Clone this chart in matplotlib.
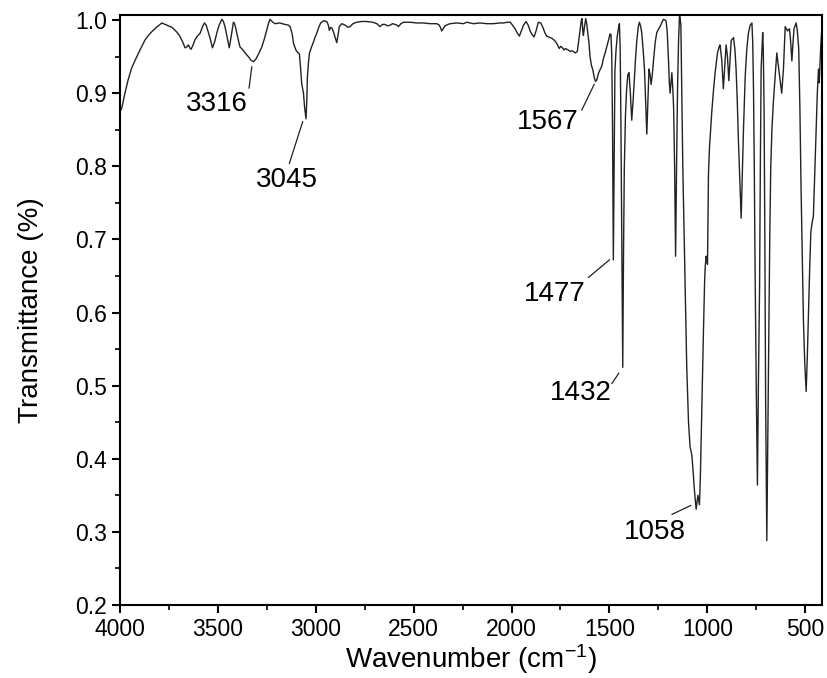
import matplotlib
matplotlib.use("Agg")
import matplotlib.pyplot as plt
from matplotlib.ticker import MultipleLocator

plt.rcParams['font.family'] = ['Liberation Sans', 'DejaVu Sans']
plt.rcParams['mathtext.fontset'] = 'custom'
plt.rcParams['mathtext.rm'] = 'Liberation Sans'
plt.rcParams['mathtext.default'] = 'regular'

# FTIR spectrum (wavenumber in cm-1, transmittance)
wavenumber = [
    4000, 3991, 3975, 3959, 3940, 3923, 3900, 3872, 3855, 3838, 3815, 3800,
    3787, 3770, 3753, 3735, 3719, 3705, 3693, 3680, 3668, 3660, 3651, 3644,
    3637, 3627, 3617, 3605, 3591, 3580, 3569, 3560, 3552, 3540, 3528, 3517,
    3506, 3494, 3480, 3472, 3464, 3452, 3442, 3432, 3421, 3415, 3409, 3398,
    3387, 3375, 3361, 3345, 3331, 3318, 3305, 3290, 3276, 3262, 3251, 3240,
    3234, 3220, 3208, 3185, 3157, 3140, 3131, 3120, 3114, 3100, 3090, 3084,
    3078, 3072, 3063, 3057, 3050, 3046, 3043, 3038, 3033, 3022, 3012, 3003,
    2995, 2985, 2975, 2961, 2944, 2936, 2931, 2924, 2918, 2910, 2900, 2893,
    2886, 2880, 2867, 2850, 2835, 2825, 2810, 2791, 2765, 2740, 2710, 2688,
    2680, 2672, 2660, 2646, 2633, 2620, 2608, 2595, 2585, 2578, 2565, 2553,
    2520, 2484, 2450, 2416, 2382, 2369, 2362, 2357, 2350, 2340, 2325, 2314,
    2280, 2246, 2229, 2195, 2161, 2127, 2093, 2060, 2042, 2020, 2007, 1995,
    1982, 1970, 1960, 1950, 1939, 1926, 1915, 1905, 1895, 1885, 1875, 1863,
    1851, 1840, 1829, 1820, 1812, 1803, 1794, 1780, 1769, 1760, 1756, 1749,
    1743, 1737, 1732, 1725, 1718, 1710, 1701, 1690, 1675, 1664, 1655, 1650,
    1644, 1640, 1636, 1633, 1628, 1621, 1616, 1610, 1605, 1599, 1592, 1585,
    1578, 1571, 1565, 1556, 1548, 1539, 1531, 1522, 1514, 1505, 1497, 1492,
    1488, 1484, 1480, 1476, 1472, 1466, 1460, 1453, 1449, 1445, 1441, 1437,
    1432, 1428, 1424, 1418, 1412, 1406, 1400, 1393, 1386, 1379, 1372, 1366,
    1360, 1353, 1347, 1341, 1335, 1328, 1321, 1315, 1309, 1303, 1298, 1292,
    1287, 1281, 1275, 1266, 1258, 1248, 1238, 1230, 1224, 1216, 1211, 1205,
    1199, 1194, 1190, 1185, 1181, 1176, 1172, 1167, 1162, 1157, 1152, 1147,
    1142, 1139, 1135, 1130, 1125, 1115, 1105, 1096, 1088, 1079, 1073, 1067,
    1062, 1057, 1053, 1048, 1044, 1040, 1035, 1028, 1020, 1014, 1011, 1006,
    1002, 999, 994, 989, 977, 968, 960, 948, 940, 935, 926, 918,
    911, 904, 897, 890, 884, 878, 866, 859, 853, 847, 841, 834,
    827, 821, 815, 806, 798, 790, 781, 772, 768, 764, 760, 756,
    750, 744, 739, 733, 729, 725, 717, 714, 710, 706, 702, 696,
    691, 686, 681, 676, 670, 662, 653, 645, 636, 628, 620, 611,
    602, 596, 590, 585, 580, 574, 568, 562, 557, 546, 540, 533,
    527, 521, 515, 509, 502, 495, 489, 484, 477, 471, 465, 458,
    451, 444, 438, 432, 428, 424, 421, 417, 414, 410,
]
transmittance = [
    0.875, 0.880, 0.900, 0.918, 0.935, 0.945, 0.958, 0.973, 0.979, 0.984, 0.990, 0.993,
    0.996, 0.994, 0.992, 0.990, 0.986, 0.982, 0.977, 0.970, 0.962, 0.963, 0.966, 0.962,
    0.960, 0.966, 0.973, 0.978, 0.982, 0.990, 0.996, 0.993, 0.986, 0.975, 0.962, 0.970,
    0.982, 0.993, 1.001, 0.998, 0.991, 0.975, 0.962, 0.978, 0.997, 0.995, 0.989, 0.975,
    0.963, 0.960, 0.955, 0.950, 0.945, 0.943, 0.947, 0.955, 0.963, 0.975, 0.986, 0.997,
    1.001, 0.997, 0.995, 0.996, 0.994, 0.993, 0.991, 0.980, 0.968, 0.958, 0.955, 0.954,
    0.935, 0.913, 0.900, 0.880, 0.865, 0.890, 0.922, 0.940, 0.954, 0.963, 0.970, 0.977,
    0.982, 0.990, 0.996, 0.999, 0.998, 0.993, 0.986, 0.990, 0.989, 0.984, 0.975, 0.969,
    0.980, 0.991, 0.995, 0.993, 0.990, 0.991, 0.995, 0.997, 0.998, 0.998, 0.997, 0.995,
    0.993, 0.991, 0.994, 0.994, 0.992, 0.993, 0.995, 0.994, 0.993, 0.991, 0.995, 0.997,
    0.997, 0.996, 0.996, 0.995, 0.995, 0.993, 0.989, 0.985, 0.988, 0.992, 0.994, 0.995,
    0.996, 0.995, 0.997, 0.995, 0.996, 0.995, 0.995, 0.996, 0.996, 0.997, 0.997, 0.993,
    0.988, 0.982, 0.978, 0.985, 0.993, 0.998, 0.993, 0.985, 0.980, 0.977, 0.985, 0.997,
    0.996, 0.990, 0.982, 0.978, 0.977, 0.976, 0.975, 0.972, 0.968, 0.963, 0.961, 0.964,
    0.963, 0.961, 0.959, 0.961, 0.960, 0.959, 0.957, 0.958, 0.955, 0.957, 0.975, 0.986,
    0.999, 1.002, 0.985, 0.979, 0.990, 1.002, 0.995, 0.982, 0.970, 0.950, 0.938, 0.932,
    0.922, 0.916, 0.918, 0.927, 0.932, 0.937, 0.947, 0.955, 0.963, 0.972, 0.981, 0.980,
    0.950, 0.850, 0.672, 0.800, 0.930, 0.960, 0.978, 0.990, 0.995, 0.960, 0.850, 0.700,
    0.525, 0.680, 0.797, 0.870, 0.906, 0.925, 0.928, 0.900, 0.863, 0.890, 0.922, 0.950,
    0.972, 0.990, 0.997, 0.992, 0.983, 0.960, 0.933, 0.890, 0.844, 0.895, 0.933, 0.925,
    0.912, 0.925, 0.944, 0.970, 0.983, 0.988, 0.993, 0.998, 1.001, 1.000, 0.999, 0.985,
    0.950, 0.915, 0.900, 0.915, 0.928, 0.905, 0.879, 0.800, 0.677, 0.800, 0.906, 0.970,
    1.007, 1.003, 0.993, 0.900, 0.797, 0.660, 0.525, 0.450, 0.416, 0.405, 0.385, 0.361,
    0.345, 0.331, 0.340, 0.350, 0.343, 0.337, 0.380, 0.470, 0.570, 0.640, 0.661, 0.677,
    0.672, 0.666, 0.790, 0.825, 0.875, 0.905, 0.928, 0.955, 0.963, 0.966, 0.945, 0.906,
    0.935, 0.966, 0.950, 0.917, 0.945, 0.972, 0.976, 0.960, 0.933, 0.890, 0.835, 0.780,
    0.729, 0.790, 0.852, 0.925, 0.961, 0.982, 0.993, 0.996, 0.970, 0.906, 0.800, 0.661,
    0.500, 0.364, 0.500, 0.634, 0.800, 0.933, 0.983, 0.960, 0.879, 0.700, 0.480, 0.288,
    0.430, 0.579, 0.700, 0.797, 0.850, 0.890, 0.925, 0.955, 0.935, 0.917, 0.900, 0.933,
    0.991, 0.988, 0.985, 0.987, 0.988, 0.970, 0.944, 0.970, 0.988, 0.996, 0.985, 0.961,
    0.880, 0.770, 0.680, 0.590, 0.530, 0.492, 0.540, 0.590, 0.660, 0.710, 0.722, 0.732,
    0.790, 0.852, 0.900, 0.933, 0.914, 0.940, 0.961, 0.980, 0.993, 1.000,
]

peak_labels = ['3316', '3045', '1567', '1477', '1432', '1058']

# label placement: text centre, then leader line start/end (data coords)
label_spots = [
    ((3506, 0.885), (3327, 0.936), (3341, 0.907)),
    ((3149, 0.781), (3067, 0.861), (3135, 0.804)),
    ((1813, 0.860), (1578, 0.912), (1641, 0.877)),
    ((1777, 0.625), (1500, 0.672), (1607, 0.648)),
    ((1646, 0.490), (1452, 0.517), (1487, 0.503)),
    ((1267, 0.300), (1085, 0.336), (1180, 0.324)),
]

fig = plt.figure(figsize=(8.28, 6.78), dpi=100)
ax = fig.add_axes([0.145, 0.1077, 0.848, 0.8703])

ax.plot(wavenumber, transmittance, color='#222222', linewidth=1.0)

for lab, (txt, p1, p2) in zip(peak_labels, label_spots):
    ax.plot([p1[0], p2[0]], [p1[1], p2[1]], color='#222222', linewidth=0.9)
    ax.text(txt[0], txt[1], lab, fontsize=20, ha='center', va='center')

ax.set_xlim(4000, 413)
ax.set_ylim(0.2, 1.007)
ax.xaxis.set_major_locator(MultipleLocator(500))
ax.xaxis.set_minor_locator(MultipleLocator(250))
ax.yaxis.set_major_locator(MultipleLocator(0.1))
ax.yaxis.set_minor_locator(MultipleLocator(0.05))
ax.tick_params(which='both', direction='out', top=False, right=False)
ax.tick_params(which='major', length=6, width=1.5, labelsize=16.5)
ax.tick_params(which='minor', length=3.5, width=1.2)
for s in ax.spines.values():
    s.set_linewidth(1.5)

ax.set_xlabel('Wavenumber (cm$^{-1}$)', fontsize=20, labelpad=1)
ax.set_ylabel('Transmittance (%)', fontsize=20, labelpad=22)

fig.savefig('out.png', dpi=100)
